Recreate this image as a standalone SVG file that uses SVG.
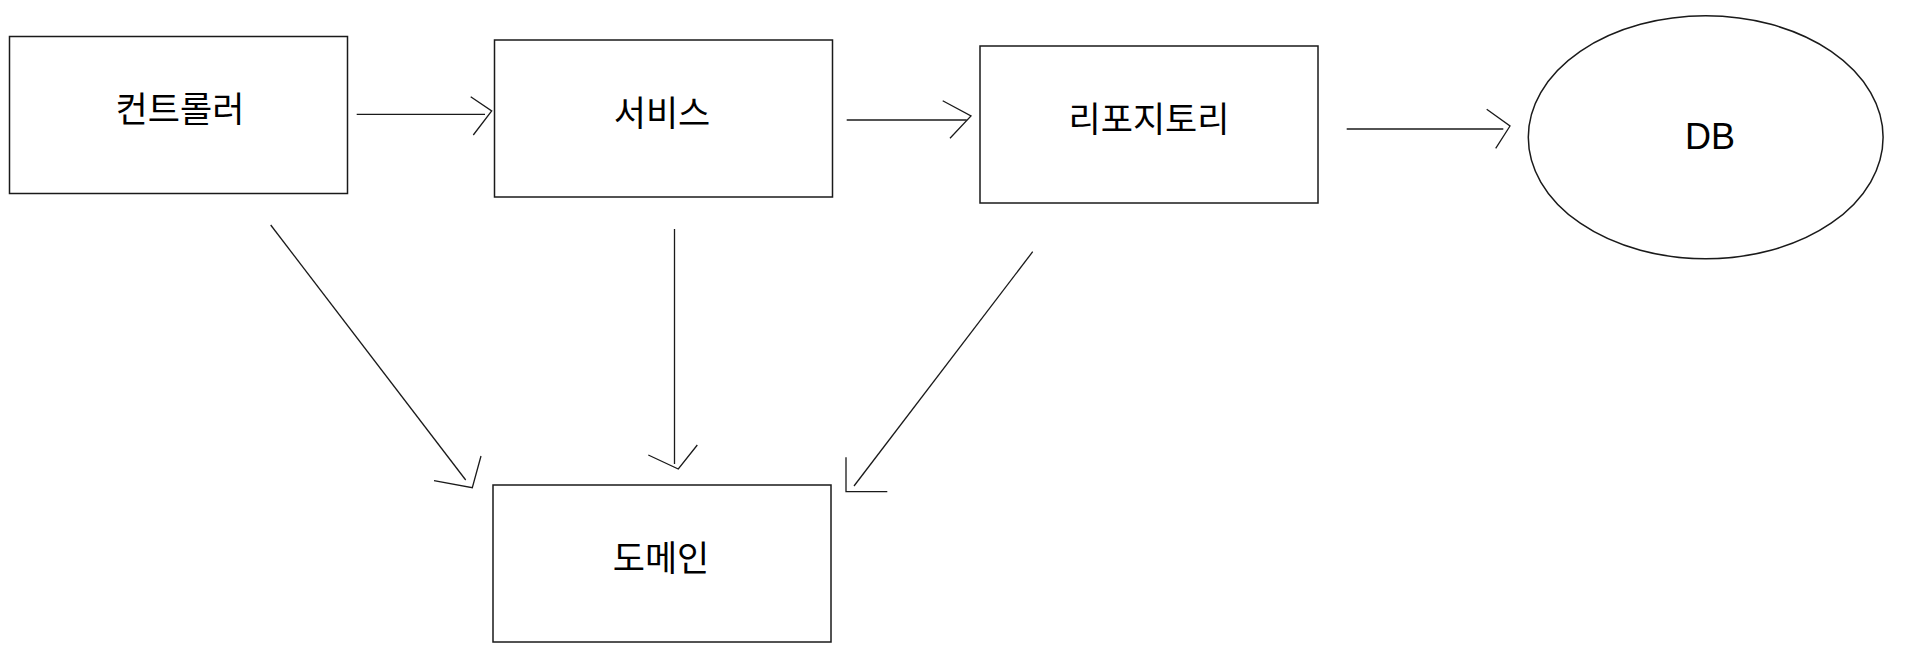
<svg xmlns="http://www.w3.org/2000/svg" width="1905" height="661" viewBox="0 0 1905 661">
<style>
.box{fill:#ffffff;stroke:#1a1a1a;stroke-width:1.5}
.lbl{font-family:"Noto Sans CJK KR","Noto Sans",sans-serif;font-size:35px;fill:#000000;text-anchor:middle}
.latin{font-family:"Liberation Sans",Arial,sans-serif;font-size:36px;fill:#000000;text-anchor:middle}
.edge{fill:none;stroke:#1a1a1a;stroke-width:1.3}
</style>
<rect width="1905" height="661" fill="#ffffff"/>
<g id="connectors">
<g id="e-controller-service"><line class="edge" x1="356.7" y1="114.3" x2="485" y2="114.3"/><polyline class="edge" points="470.7,96.7 491.7,111 473.3,135"/></g>
<g id="e-service-repository"><line class="edge" x1="846.7" y1="120" x2="966.7" y2="120"/><polyline class="edge" points="942.7,100.7 971,116 950,138.3"/></g>
<g id="e-repository-db"><line class="edge" x1="1346.7" y1="129" x2="1503.3" y2="129"/><polyline class="edge" points="1486.7,109.3 1510,126 1495.7,148.3"/></g>
<g id="e-controller-domain"><line class="edge" x1="270.7" y1="225" x2="465.7" y2="480"/><polyline class="edge" points="434,480.7 472.3,487.7 481,456"/></g>
<g id="e-service-domain"><line class="edge" x1="674.5" y1="229" x2="674.5" y2="464"/><polyline class="edge" points="648.3,455 678.3,469 697.3,445"/></g>
<g id="e-repository-domain"><line class="edge" x1="1032.7" y1="251.7" x2="854" y2="486"/><polyline class="edge" points="846,457.3 846,491.7 887.3,491.7"/></g>
</g>
<g id="controller"><rect class="box" x="9.5" y="36.5" width="338" height="157"/><text class="lbl" x="180" y="122">컨트롤러</text></g>
<g id="service"><rect class="box" x="494.5" y="40" width="338" height="157"/><text class="lbl" x="662" y="125.5">서비스</text></g>
<g id="repository"><rect class="box" x="980" y="46" width="338" height="157"/><text class="lbl" x="1149" y="131.5">리포지토리</text></g>
<g id="db"><ellipse class="box" cx="1705.7" cy="137.3" rx="177.4" ry="121.5"/><text class="latin" x="1710" y="149">DB</text></g>
<g id="domain"><rect class="box" x="493" y="485" width="338" height="157"/><text class="lbl" x="661" y="570.5">도메인</text></g>
</svg>
